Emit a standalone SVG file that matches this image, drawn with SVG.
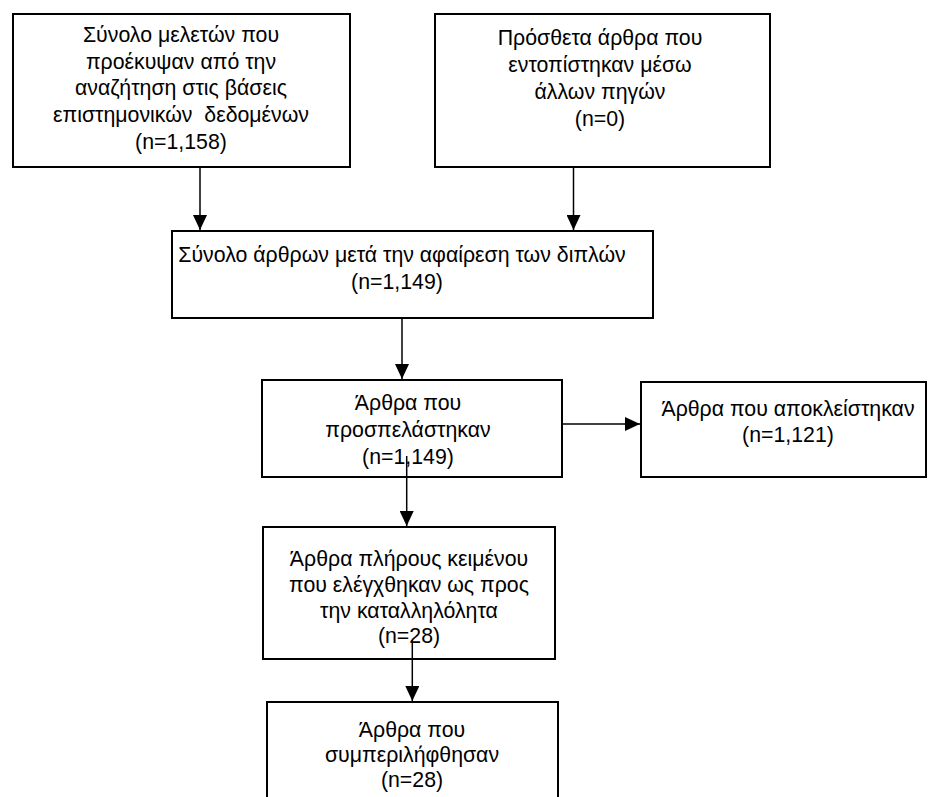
<svg xmlns="http://www.w3.org/2000/svg" width="928" height="797" viewBox="0 0 928 797">
  <style>
    .box { fill: #ffffff; stroke: #000000; stroke-width: 2; }
    .lbl { font-family: "Liberation Sans", Arial, sans-serif; font-size: 21.3px; fill: #000000; text-anchor: middle; white-space: pre; }
    .edge { stroke: #000000; stroke-width: 1.5; fill: none; marker-end: url(#head); }
  </style>
  <defs>
    <marker id="head" viewBox="0 0 10 10" refX="10" refY="5" markerWidth="15" markerHeight="14" markerUnits="userSpaceOnUse" orient="auto" preserveAspectRatio="none">
      <path d="M0,0 L10,5 L0,10 Z" fill="#000000"/>
    </marker>
  </defs>
  <rect width="928" height="797" fill="#ffffff"/>

  <!-- flow boxes -->
  <g id="search-results">
    <rect class="box" x="13" y="14" width="337" height="153"/>
    <text class="lbl" x="181" y="42">Σύνολο μελετών που</text>
    <text class="lbl" x="181" y="69">προέκυψαν από την</text>
    <text class="lbl" x="181" y="95">αναζήτηση στις βάσεις</text>
    <text class="lbl" x="181" y="122" xml:space="preserve">επιστημονικών  δεδομένων</text>
    <text class="lbl" x="181" y="149">(n=1,158)</text>
  </g>
  <g id="other-sources">
    <rect class="box" x="435" y="14" width="335" height="153"/>
    <text class="lbl" x="600" y="45">Πρόσθετα άρθρα που</text>
    <text class="lbl" x="600" y="72">εντοπίστηκαν μέσω</text>
    <text class="lbl" x="600" y="99">άλλων πηγών</text>
    <text class="lbl" x="600" y="126">(n=0)</text>
  </g>
  <g id="deduplicated">
    <rect class="box" x="172" y="231" width="481" height="87"/>
    <text class="lbl" x="402" y="262">Σύνολο άρθρων μετά την αφαίρεση των διπλών</text>
    <text class="lbl" x="397" y="289">(n=1,149)</text>
  </g>
  <g id="screened">
    <rect class="box" x="262" y="380" width="300" height="97"/>
    <text class="lbl" x="408" y="410">Άρθρα που</text>
    <text class="lbl" x="408" y="437">προσπελάστηκαν</text>
    <text class="lbl" x="408" y="464">(n=1,149)</text>
  </g>
  <g id="excluded">
    <rect class="box" x="641" y="382" width="285" height="95"/>
    <text class="lbl" x="788" y="416">Άρθρα που αποκλείστηκαν</text>
    <text class="lbl" x="788" y="442">(n=1,121)</text>
  </g>
  <g id="full-text">
    <rect class="box" x="263" y="527" width="292" height="132"/>
    <text class="lbl" x="409" y="566">Άρθρα πλήρους κειμένου</text>
    <text class="lbl" x="409" y="592">που ελέγχθηκαν ως προς</text>
    <text class="lbl" x="409" y="618">την καταλληλόλητα</text>
    <text class="lbl" x="409" y="643">(n=28)</text>
  </g>
  <g id="included">
    <rect class="box" x="267" y="702" width="291" height="110"/>
    <text class="lbl" x="412" y="737">Άρθρα που</text>
    <text class="lbl" x="412" y="762">συμπεριλήφθησαν</text>
    <text class="lbl" x="412" y="787">(n=28)</text>
  </g>

  <!-- connectors -->
  <g id="connectors">
    <line class="edge" x1="200" y1="167" x2="200" y2="230"/>
    <line class="edge" x1="573.5" y1="167" x2="573.5" y2="230"/>
    <line class="edge" x1="402" y1="318" x2="402" y2="379"/>
    <line class="edge" x1="562" y1="424" x2="640" y2="424"/>
    <line class="edge" x1="406.7" y1="456" x2="406.7" y2="526"/>
    <line class="edge" x1="412.3" y1="640" x2="412.3" y2="701"/>
  </g>
</svg>
